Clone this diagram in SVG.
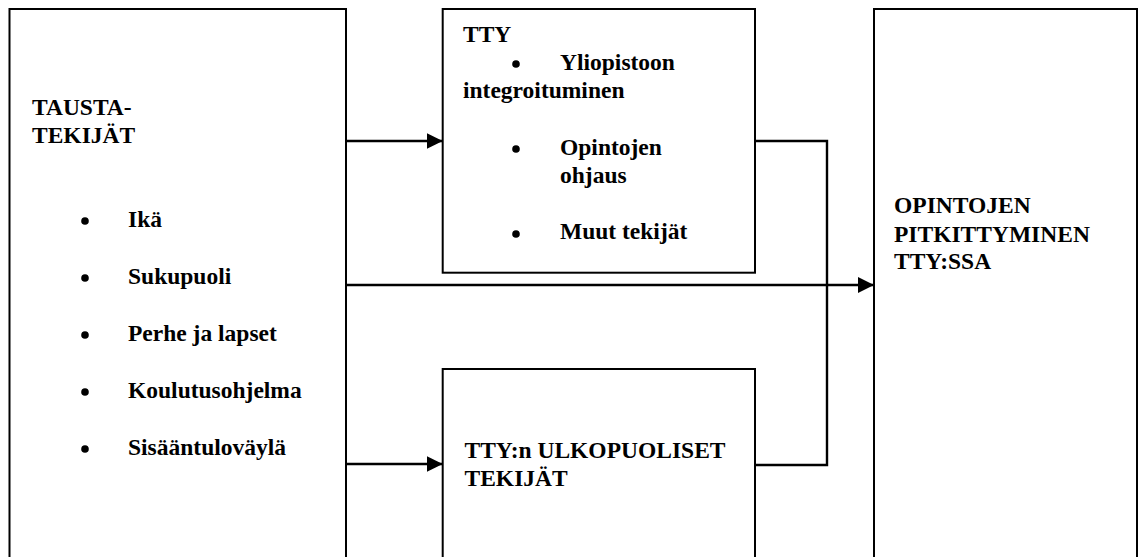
<svg xmlns="http://www.w3.org/2000/svg" width="1139" height="557" viewBox="0 0 1139 557">
<defs>
<style>
.box{fill:#fff;stroke:#000;stroke-width:2}
.t{font-family:"Liberation Serif","Times New Roman",serif;font-weight:bold;font-size:23.5px;fill:#000}
.c{fill:none;stroke:#000;stroke-width:2.4}
.b{fill:#000}
</style>
<marker id="ah" markerWidth="16" markerHeight="16" refX="16" refY="8" orient="auto" markerUnits="userSpaceOnUse">
<path d="M0,0 L16,8 L0,16 Z" fill="#000"/>
</marker>
</defs>
<rect width="1139" height="557" fill="#fff"/>
<g id="tausta">
<rect class="box" x="9.5" y="9" width="336.5" height="570"/>
<text class="t" x="32" y="115">TAUSTA-</text>
<text class="t" x="32" y="143">TEKIJÄT</text>
<circle class="b" cx="85" cy="221" r="3.8"/>
<text class="t" x="128" y="227">Ikä</text>
<circle class="b" cx="85" cy="278" r="3.8"/>
<text class="t" x="128" y="284">Sukupuoli</text>
<circle class="b" cx="85" cy="335" r="3.8"/>
<text class="t" x="128" y="341">Perhe ja lapset</text>
<circle class="b" cx="85" cy="392" r="3.8"/>
<text class="t" x="128" y="398">Koulutusohjelma</text>
<circle class="b" cx="85" cy="449" r="3.8"/>
<text class="t" x="128" y="455">Sisääntuloväylä</text>
</g>
<g id="tty">
<rect class="box" x="442.7" y="9" width="312.3" height="263.7"/>
<text class="t" x="463" y="42">TTY</text>
<circle class="b" cx="516" cy="64" r="3.8"/>
<text class="t" x="560" y="70">Yliopistoon</text>
<text class="t" x="463" y="98">integroituminen</text>
<circle class="b" cx="516" cy="149" r="3.8"/>
<text class="t" x="560" y="155">Opintojen</text>
<text class="t" x="560" y="183">ohjaus</text>
<circle class="b" cx="516" cy="234" r="3.8"/>
<text class="t" x="560" y="239">Muut tekijät</text>
</g>
<g id="ulkopuoliset">
<rect class="box" x="442.7" y="369" width="312.3" height="210"/>
<text class="t" x="464.5" y="458">TTY:n ULKOPUOLISET</text>
<text class="t" x="464.5" y="486">TEKIJÄT</text>
</g>
<g id="pitkittyminen">
<rect class="box" x="874" y="9" width="263" height="570"/>
<text class="t" x="894" y="213">OPINTOJEN</text>
<text class="t" x="894" y="241.5">PITKITTYMINEN</text>
<text class="t" x="894" y="269">TTY:SSA</text>
</g>
<g id="connectors">
<line class="c" x1="346" y1="141" x2="442.7" y2="141" marker-end="url(#ah)"/>
<line class="c" x1="346" y1="285" x2="874" y2="285" marker-end="url(#ah)"/>
<line class="c" x1="346" y1="464" x2="442.7" y2="464" marker-end="url(#ah)"/>
<polyline class="c" points="755,141 827,141 827,465 755,465"/>
</g>
</svg>
